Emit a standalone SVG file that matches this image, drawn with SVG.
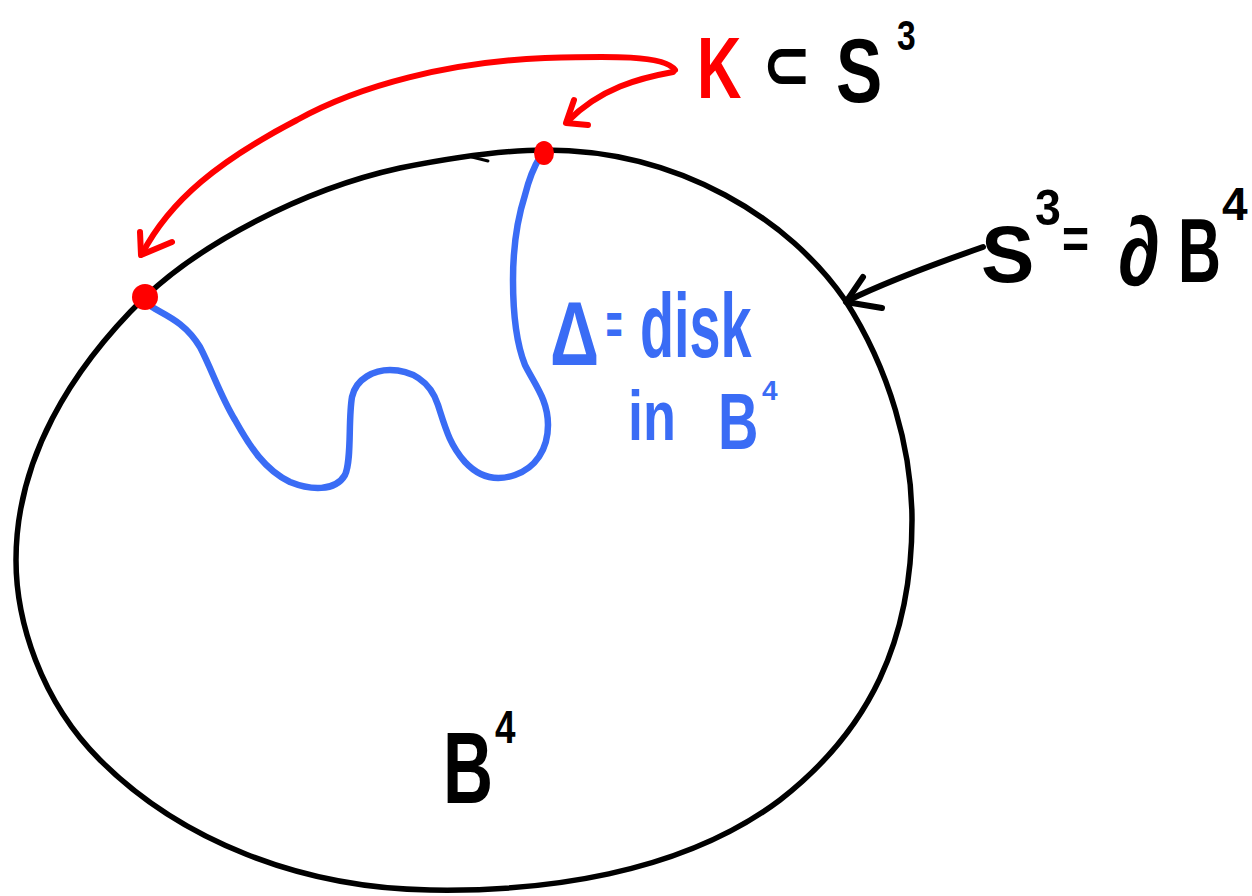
<svg xmlns="http://www.w3.org/2000/svg" width="1252" height="896" viewBox="0 0 1252 896">
<style>
.hw{font-family:"Liberation Sans","DejaVu Sans",sans-serif;font-weight:bold;}
.math{font-family:"DejaVu Sans",sans-serif;font-weight:bold;}
.blk{fill:#000;}
.red{fill:#ff0000;}
.blu{fill:#3a6cf5;}
.ball{fill:none;stroke:#000;stroke-width:5.5;stroke-linecap:round;stroke-linejoin:round;}
.rline{fill:none;stroke:#ff0000;stroke-width:6;stroke-linecap:round;stroke-linejoin:round;}
.bline{fill:none;stroke:#3a6cf5;stroke-width:6.5;stroke-linecap:round;stroke-linejoin:round;}
.kline{fill:none;stroke:#000;stroke-width:6;stroke-linecap:round;stroke-linejoin:round;}
</style>
<rect width="1252" height="896" fill="#fff"/>
<g id="ball">
<path class="ball" d="M 145 297 C 200 245, 300 190, 400 168 C 450 158, 500 150, 545 150 C 680 150, 790 220, 845 300 C 890 370, 912 450, 912 520 C 912 640, 870 730, 780 800 C 680 875, 540 892, 430 890 C 300 888, 180 840, 100 760 C 40 700, 16 620, 16 560 C 16 460, 70 370, 145 297 Z"/>
<path class="ball" d="M 472 157 L 488 161" style="stroke-width:3"/>
</g>
<g id="disk">
<path class="bline" d="M 152 307 C 165 315, 185 322, 200 347 C 212 370, 220 395, 235 420 C 250 447, 265 470, 290 482 C 310 490, 335 492, 345 475 C 352 460, 348 420, 352 397 C 356 378, 375 370, 390 370 C 410 370, 430 380, 438 405 C 446 430, 450 445, 465 462 C 478 476, 495 482, 515 475 C 535 468, 548 450, 548 425 C 548 400, 535 385, 525 365 C 515 340, 513 310, 513 280 C 513 250, 517 220, 525 195 C 530 175, 535 165, 540 157"/>
</g>
<g id="knot-points">
<circle cx="145" cy="297" r="13" class="red"/>
<ellipse cx="544" cy="153" rx="10" ry="12" class="red"/>
</g>
<g id="connectors">
<path class="rline" d="M 675 70 C 665 55, 610 56, 545 58 C 450 62, 360 85, 297 120 C 220 160, 170 200, 142 254"/>
<path class="rline" d="M 140 232 L 141 255 L 172 242"/>
<path class="rline" d="M 673 72 C 640 78, 600 88, 567 122"/>
<path class="rline" d="M 574 100 L 566 123 L 588 125"/>
<path class="kline" d="M 983 247 C 940 262, 890 280, 847 301"/>
<path class="kline" d="M 863 277 L 846 302 L 882 308"/>
</g>
<g id="label-K">
<text class="hw red" x="697" y="98" font-size="88" transform="matrix(0.7 0 0 1 209.1 0)">K</text>
<text class="math blk" x="762" y="89" font-size="72" transform="matrix(0.82 0 0 1 137.16 0)">⊂</text>
<text class="hw blk" x="836" y="102" font-size="90" transform="matrix(0.77 0 0 1 192.28 0)">S</text>
<text class="hw blk" x="897" y="50" font-size="42" transform="matrix(0.8 0 0 1 179.4 0)">3</text>
</g>
<g id="label-S3">
<text class="hw blk" x="981" y="282" font-size="80">S</text>
<text class="hw blk" x="1035" y="225" font-size="50" transform="matrix(0.93 0 0 1 72.45 0)">3</text>
<text class="hw blk" x="1062" y="258" font-size="58" transform="matrix(0.8 0 0 1 212.4 0)">=</text>
<text class="hw blk" x="1118" y="285" font-size="98" transform="matrix(0.87 0 0 1 145.34 0)">∂</text>
<text class="hw blk" x="1178" y="282" font-size="90" transform="matrix(0.66 0 0 1 400.52 0)">B</text>
<text class="hw blk" x="1222" y="220" font-size="46">4</text>
</g>
<g id="label-disk">
<text class="hw blu" x="550" y="365" font-size="90" transform="matrix(0.76 0 0 1 132 0)">Δ</text>
<text class="hw blu" x="606" y="345" font-size="62" transform="matrix(0.45 0 0 1 333.3 0)">=</text>
<text class="hw blu" x="640" y="357" font-size="90" transform="matrix(0.62 0 0 1 243.2 0)">disk</text>
<text class="hw blu" x="628" y="440" font-size="70" transform="matrix(0.77 0 0 1 144.44 0)">in</text>
<text class="hw blu" x="718" y="449" font-size="80" transform="matrix(0.7 0 0 1 215.4 0)">B</text>
<text class="hw blu" x="762" y="400" font-size="28">4</text>
</g>
<g id="label-B4">
<text class="hw blk" x="443" y="803" font-size="102" transform="matrix(0.68 0 0 1 141.76 0)">B</text>
<text class="hw blk" x="495" y="743" font-size="46" transform="matrix(0.8 0 0 1 99 0)">4</text>
</g>
</svg>
